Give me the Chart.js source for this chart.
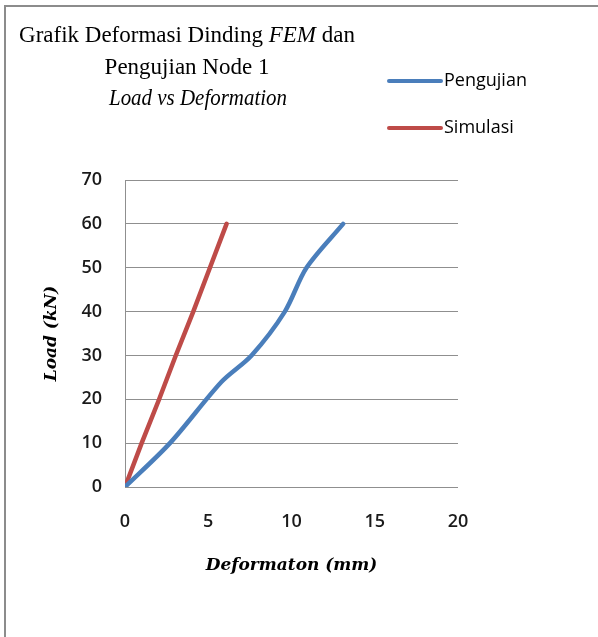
<!DOCTYPE html>
<html>
<head>
<meta charset="utf-8">
<script src="https://cdn.jsdelivr.net/npm/chart.js@4/dist/chart.umd.min.js"></script>
<style>
  html, body { margin: 0; padding: 0; background: #fff; overflow: hidden; }
  #frame { position: absolute; left: 4px; top: 5px; width: 700px; height: 700px;
           border-left: 2px solid #8c8c8c; border-top: 2px solid #8c8c8c; }
  #c { position: absolute; left: 0; top: 0; }
</style>
</head>
<body>
<div id="frame"></div>
<canvas id="c" width="598" height="637"></canvas>
<script>
// Load–deformation readings, node 1
const seriesNames = ['Pengujian', 'Simulasi'];
const seriesColors = ['#4a7ebb', '#be4b48'];
const testDeformation = [0, 2.7, 5.8, 7.6, 9.6, 10.9, 13.1];   // mm
const testLoad        = [0, 10, 24, 30, 40, 50, 60];           // kN
const simDeformation  = [0, 1.0, 2.05, 3.05, 4.1, 5.1, 6.1];   // mm
const simLoad         = [0, 10, 20, 30, 40, 50, 60];           // kN
const xTicks = [0, 5, 10, 15, 20];
const yTicks = [0, 10, 20, 30, 40, 50, 60, 70];

const toPoints = (xs, ys) => xs.map((x, i) => ({ x: x, y: ys[i] }));

const tickFont = { family: '"Open Sans", sans-serif', size: 18, weight: '600' };
const axisTitleFont = { family: '"DejaVu Serif", serif', size: 17, style: 'italic', weight: 'bold' };

// Title (mixed upright / italic runs) and legend drawn onto the canvas
const titleLegend = {
  id: 'titleLegend',
  afterDraw(chart) {
    const ctx = chart.ctx;
    ctx.save();
    ctx.fillStyle = '#000';
    ctx.textBaseline = 'alphabetic';
    const serif = '"Liberation Serif", "Times New Roman", serif';
    const lines = [
      { y: 42, cx: 187, runs: [['Grafik Deformasi Dinding ', false], ['FEM', true], [' dan', false]] },
      { y: 74, cx: 187, runs: [['Pengujian Node 1', false]] },
      { y: 105, cx: 198, runs: [['Load vs Deformation', true]], squeeze: 178 }
    ];
    lines.forEach(line => {
      let total = 0;
      line.runs.forEach(r => { ctx.font = (r[1] ? 'italic ' : '') + '23px ' + serif; total += ctx.measureText(r[0]).width; });
      const w = line.squeeze ? Math.min(total, line.squeeze) : total;
      const k = w / total;
      let x = line.cx - w / 2;
      ctx.textAlign = 'left';
      line.runs.forEach(r => {
        ctx.font = (r[1] ? 'italic ' : '') + '23px ' + serif;
        const rw = ctx.measureText(r[0]).width * k;
        ctx.fillText(r[0], x, line.y, rw);
        x += rw;
      });
    });

    // legend
    const rows = [81, 128];
    chart.data.datasets.forEach((ds, i) => {
      const y = rows[i];
      ctx.strokeStyle = ds.borderColor;
      ctx.lineWidth = 4;
      ctx.lineCap = 'round';
      ctx.beginPath();
      ctx.moveTo(389, y);
      ctx.lineTo(441, y);
      ctx.stroke();
      ctx.font = '18px "Open Sans", sans-serif';
      ctx.textBaseline = 'middle';
      ctx.textAlign = 'left';
      ctx.fillStyle = '#000';
      ctx.fillText(ds.label, 444, y);
    });
    ctx.restore();
  }
};

new Chart(document.getElementById('c'), {
  type: 'line',
  data: {
    datasets: [
      {
        label: seriesNames[0],
        data: toPoints(testDeformation, testLoad),
        borderColor: seriesColors[0],
        backgroundColor: seriesColors[0],
        borderWidth: 4.5,
        pointRadius: 0,
        tension: 0.3,
        borderCapStyle: 'round',
        borderJoinStyle: 'round'
      },
      {
        label: seriesNames[1],
        data: toPoints(simDeformation, simLoad),
        borderColor: seriesColors[1],
        backgroundColor: seriesColors[1],
        borderWidth: 4.5,
        pointRadius: 0,
        tension: 0,
        borderCapStyle: 'round',
        borderJoinStyle: 'round'
      }
    ]
  },
  options: {
    responsive: false,
    animation: false,
    devicePixelRatio: 1,
    layout: { padding: { left: 38, right: 140, top: 180, bottom: 55 } },
    plugins: {
      legend: { display: false },
      title: { display: false },
      tooltip: { enabled: false }
    },
    scales: {
      x: {
        type: 'linear',
        min: xTicks[0],
        max: xTicks[xTicks.length - 1],
        afterBuildTicks: s => { s.ticks = xTicks.map(v => ({ value: v })); },
        afterFit: s => { s.height = 95; },
        grid: { display: false, drawTicks: false },
        border: { display: false },
        ticks: { padding: 24, color: '#1a1a1a', font: tickFont },
        title: {
          display: true,
          text: 'Deformaton (mm)',
          color: '#000',
          padding: { top: 0, bottom: 6 },
          font: axisTitleFont
        }
      },
      y: {
        type: 'linear',
        min: yTicks[0],
        max: yTicks[yTicks.length - 1],
        afterBuildTicks: s => { s.ticks = yTicks.map(v => ({ value: v })); },
        afterFit: s => { s.width = 87; },
        grid: { color: '#8f8f8f', lineWidth: 1, drawTicks: false },
        border: { display: true, color: '#8f8f8f', width: 1 },
        ticks: { padding: 23, color: '#1a1a1a', font: tickFont },
        title: {
          display: true,
          text: 'Load (kN)',
          color: '#000',
          padding: { top: 3, bottom: 0 },
          font: axisTitleFont
        }
      }
    }
  },
  plugins: [titleLegend]
});
</script>
</body>
</html>
